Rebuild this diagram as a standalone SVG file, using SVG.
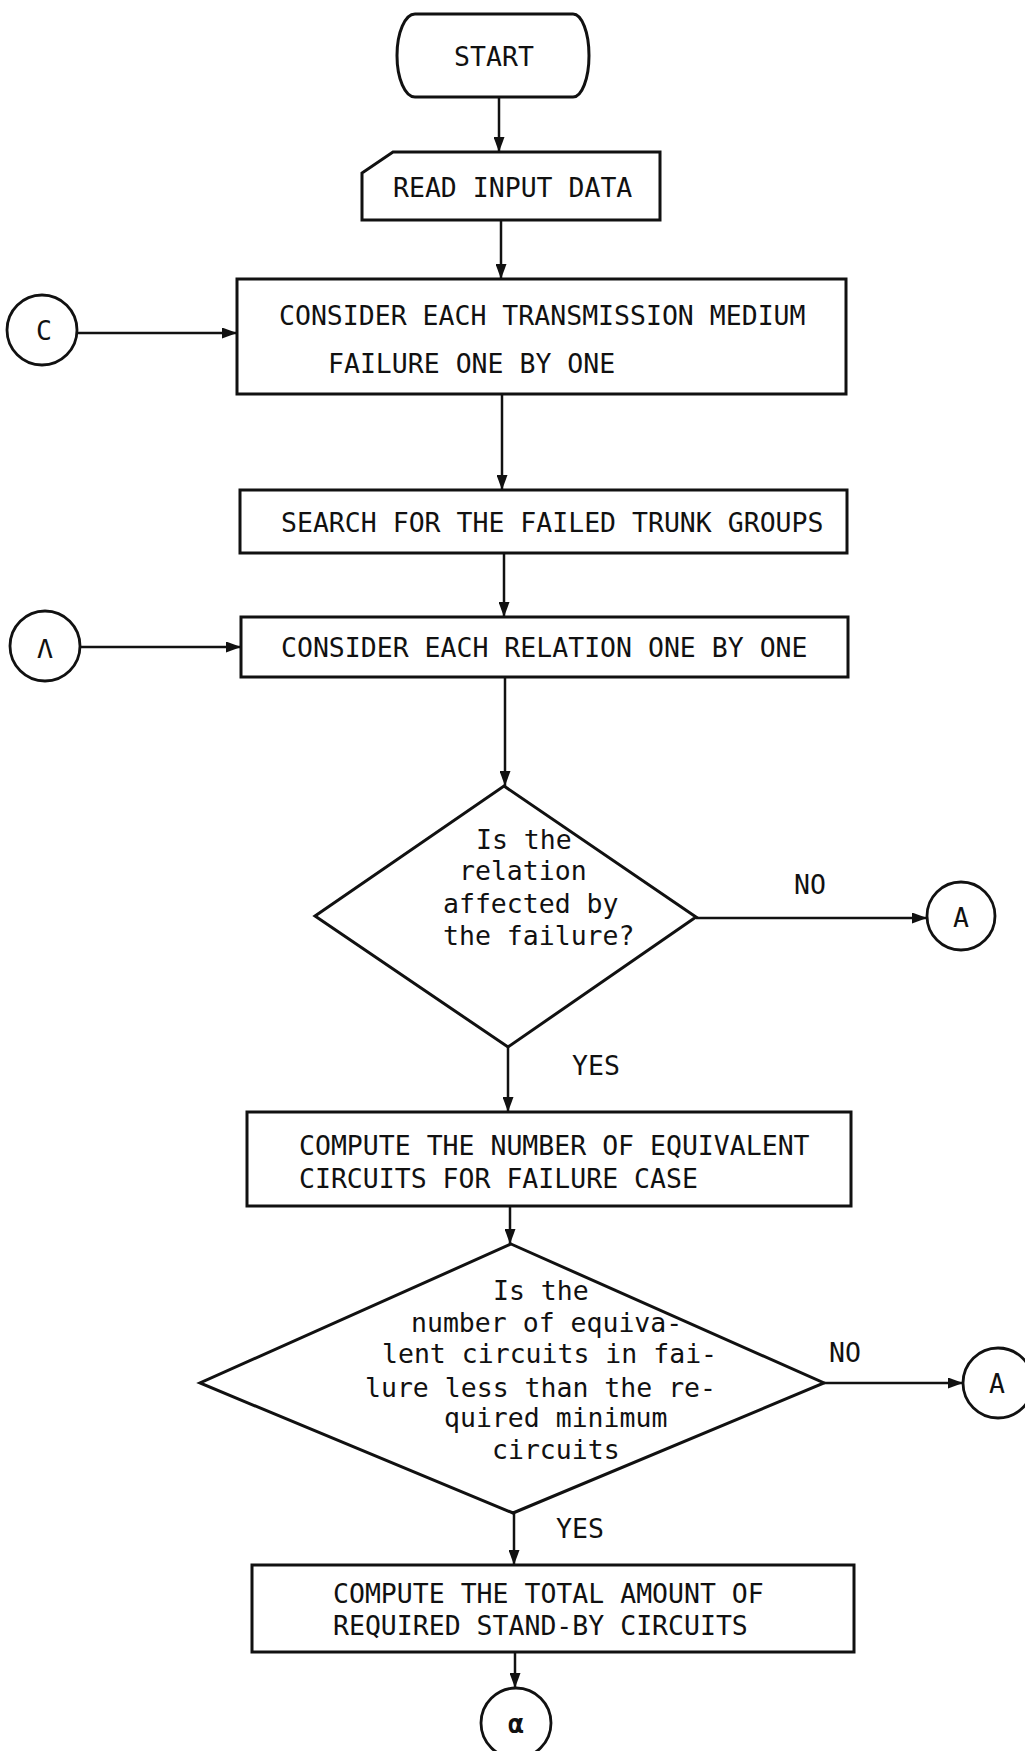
<svg xmlns="http://www.w3.org/2000/svg" width="1025" height="1751" viewBox="0 0 1025 1751">
<defs>
<style>
.shape{fill:none;stroke:#111;stroke-width:3;stroke-linejoin:miter}
.circ{fill:none;stroke:#111;stroke-width:2.8}
.conn{fill:none;stroke:#111;stroke-width:2.5}
.t{font-family:"DejaVu Sans Mono","Liberation Mono",monospace;font-size:26.5px;fill:#111}
.c{text-anchor:middle}
.lbl{font-family:"DejaVu Sans Mono","Liberation Mono",monospace;font-size:26.5px;fill:#111}
</style>
<marker id="arr" markerUnits="userSpaceOnUse" markerWidth="15" markerHeight="11" refX="15" refY="5.5" orient="auto">
<path d="M0,0 L15,5.5 L0,11 Z" fill="#111"/>
</marker>
</defs>
<rect width="1025" height="1751" fill="#ffffff"/>

<g id="connectors">
<line class="conn" x1="499" y1="97" x2="499" y2="152" marker-end="url(#arr)"/>
<line class="conn" x1="501" y1="220" x2="501" y2="279" marker-end="url(#arr)"/>
<line class="conn" x1="77" y1="333" x2="237" y2="333" marker-end="url(#arr)"/>
<line class="conn" x1="502" y1="394" x2="502" y2="490" marker-end="url(#arr)"/>
<line class="conn" x1="504" y1="553" x2="504" y2="617" marker-end="url(#arr)"/>
<line class="conn" x1="80" y1="647" x2="241" y2="647" marker-end="url(#arr)"/>
<line class="conn" x1="505" y1="677" x2="505" y2="786" marker-end="url(#arr)"/>
<line class="conn" x1="696" y1="918" x2="927" y2="918" marker-end="url(#arr)"/>
<line class="conn" x1="508" y1="1047" x2="508" y2="1112" marker-end="url(#arr)"/>
<line class="conn" x1="510" y1="1206" x2="510" y2="1244" marker-end="url(#arr)"/>
<line class="conn" x1="824" y1="1383" x2="963" y2="1383" marker-end="url(#arr)"/>
<line class="conn" x1="514" y1="1513" x2="514" y2="1565" marker-end="url(#arr)"/>
<line class="conn" x1="515" y1="1652" x2="515" y2="1688" marker-end="url(#arr)"/>
<text class="lbl" x="794" y="894">NO</text>
<text class="lbl" x="572" y="1075">YES</text>
<text class="lbl" x="829" y="1362">NO</text>
<text class="lbl" x="556" y="1538">YES</text>
</g>

<g id="start">
<path class="shape" d="M415,14 H573 A16 41.5 0 0 1 573,97 H415 A18 41.5 0 0 1 415,14 Z"/>
<text class="t c" x="494" y="66">START</text>
</g>

<g id="read-input">
<path class="shape" d="M393,152 H660 V220 H362 V173 Z"/>
<text class="t" x="393" y="197">READ INPUT DATA</text>
</g>

<g id="connector-c">
<circle class="circ" cx="42" cy="330" r="35"/>
<text class="t c" x="44" y="340">C</text>
</g>

<g id="consider-medium">
<rect class="shape" x="237" y="279" width="609" height="115"/>
<text class="t" x="279" y="325">CONSIDER EACH TRANSMISSION MEDIUM</text>
<text class="t" x="328" y="373">FAILURE ONE BY ONE</text>
</g>

<g id="search">
<rect class="shape" x="240" y="490" width="607" height="63"/>
<text class="t" x="281" y="532">SEARCH FOR THE FAILED TRUNK GROUPS</text>
</g>

<g id="connector-lambda">
<circle class="circ" cx="45" cy="646" r="35"/>
<text class="t c" x="45" y="658">Λ</text>
</g>

<g id="consider-relation">
<rect class="shape" x="241" y="617" width="607" height="60"/>
<text class="t" x="281" y="657">CONSIDER EACH RELATION ONE BY ONE</text>
</g>

<g id="decision-affected">
<polygon class="shape" points="504,786 696,917 508,1047 315,916"/>
<text class="t" x="476" y="849">Is the</text>
<text class="t" x="459" y="880">relation</text>
<text class="t" x="443" y="913">affected by</text>
<text class="t" x="443" y="945">the failure?</text>
</g>

<g id="connector-a1">
<circle class="circ" cx="961" cy="916" r="34"/>
<text class="t c" x="961" y="927">A</text>
</g>

<g id="compute-equivalent">
<rect class="shape" x="247" y="1112" width="604" height="94"/>
<text class="t" x="299" y="1155">COMPUTE THE NUMBER OF EQUIVALENT</text>
<text class="t" x="299" y="1188">CIRCUITS FOR FAILURE CASE</text>
</g>

<g id="decision-less">
<polygon class="shape" points="511,1244 824,1383 513,1513 200,1383"/>
<text class="t" x="493" y="1300">Is the</text>
<text class="t" x="411" y="1332">number of equiva-</text>
<text class="t" x="382" y="1363">lent circuits in fai-</text>
<text class="t" x="365" y="1397">lure less than the re-</text>
<text class="t" x="444" y="1427">quired minimum</text>
<text class="t" x="492" y="1459">circuits</text>
</g>

<g id="connector-a2">
<circle class="circ" cx="998" cy="1383" r="35"/>
<text class="t c" x="997" y="1393">A</text>
</g>

<g id="compute-total">
<rect class="shape" x="252" y="1565" width="602" height="87"/>
<text class="t" x="333" y="1603">COMPUTE THE TOTAL AMOUNT OF</text>
<text class="t" x="333" y="1635">REQUIRED STAND-BY CIRCUITS</text>
</g>

<g id="connector-alpha">
<circle class="circ" cx="516" cy="1723" r="35"/>
<text class="t c" x="516" y="1733" font-weight="bold">α</text>
</g>
</svg>
